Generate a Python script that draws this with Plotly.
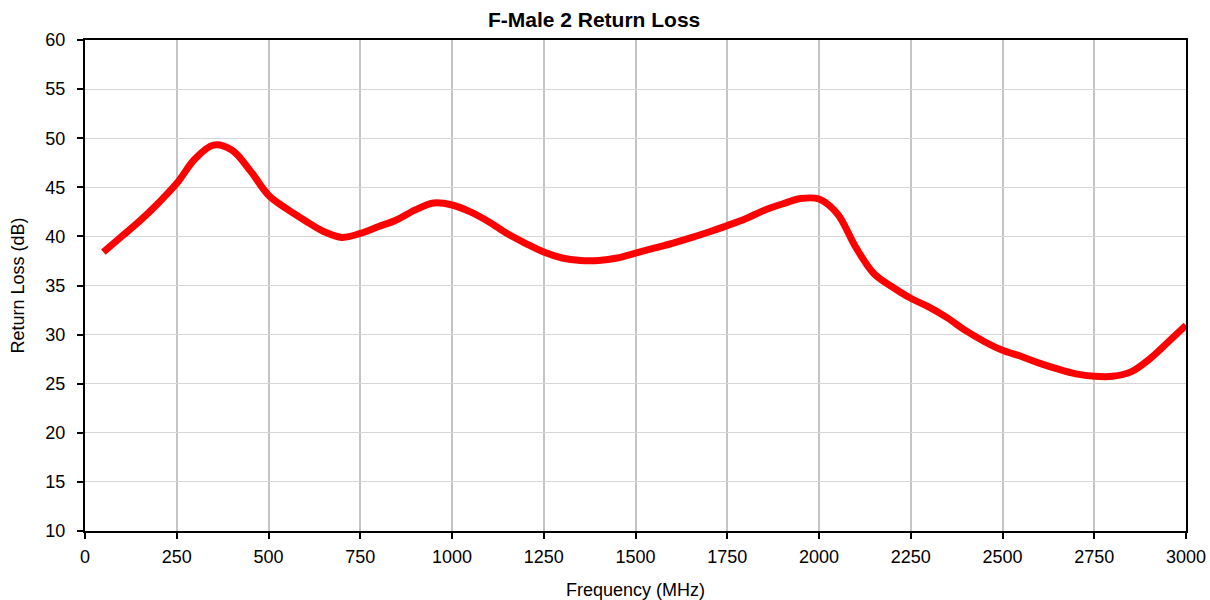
import plotly.graph_objects as go

# Measured return loss of the F-Male 2 connector
freq_mhz = [50, 100, 150, 200, 250, 300, 350, 400, 450, 500,
            550, 600, 650, 700, 750, 800, 850, 900, 950, 1000,
            1050, 1100, 1150, 1200, 1250, 1300, 1350, 1400, 1450, 1500,
            1550, 1600, 1650, 1700, 1750, 1800, 1850, 1900, 1950, 2000,
            2050, 2100, 2150, 2200, 2250, 2300, 2350, 2400, 2450, 2500,
            2550, 2600, 2650, 2700, 2750, 2800, 2850, 2900, 2950, 3000]
return_loss_db = [38.4, 40.0, 41.6, 43.4, 45.4, 47.9, 49.3, 48.8, 46.7, 44.2,
                  42.8, 41.6, 40.5, 39.9, 40.3, 41.0, 41.7, 42.7, 43.4, 43.2,
                  42.5, 41.5, 40.3, 39.3, 38.4, 37.8, 37.55, 37.55, 37.8, 38.3,
                  38.8, 39.3, 39.85, 40.45, 41.1, 41.8, 42.65, 43.3, 43.85, 43.8,
                  42.3, 38.9, 36.2, 34.85, 33.7, 32.8, 31.7, 30.4, 29.3, 28.4,
                  27.8, 27.1, 26.5, 26.0, 25.75, 25.75, 26.2, 27.5, 29.2, 30.95]

x_ticks = [0, 250, 500, 750, 1000, 1250, 1500, 1750, 2000, 2250, 2500, 2750, 3000]
y_ticks = [10, 15, 20, 25, 30, 35, 40, 45, 50, 55, 60]

font_family = "Liberation Sans, Arial, sans-serif"

fig = go.Figure()
fig.add_trace(go.Scatter(
    x=freq_mhz,
    y=return_loss_db,
    mode="lines",
    line=dict(color="#ff0000", width=7, shape="spline", smoothing=1.0),
    showlegend=False,
))

fig.update_layout(
    width=1210,
    height=600,
    margin=dict(l=85, r=24, t=40, b=69),
    paper_bgcolor="white",
    plot_bgcolor="white",
    font=dict(family=font_family, size=18, color="black"),
    title=dict(
        text="<b>F-Male 2 Return Loss</b>",
        x=0.491, xanchor="center",
        y=0.968, yanchor="middle",
        font=dict(family=font_family, size=21, color="black"),
    ),
)

fig.update_xaxes(
    range=[0, 3000],
    tickvals=x_ticks,
    ticktext=[str(v) for v in x_ticks],
    ticks="outside",
    ticklen=6,
    tickwidth=2,
    tickcolor="black",
    ticklabelstandoff=2,
    tickfont=dict(size=18),
    showline=True,
    linecolor="black",
    linewidth=2,
    mirror=True,
    showgrid=True,
    gridcolor="#c4c4c4",
    gridwidth=2,
    zeroline=False,
    automargin=False,
    title=dict(text="Frequency (MHz)", standoff=20,
               font=dict(family=font_family, size=18)),
)

fig.update_yaxes(
    range=[10, 60],
    tickvals=y_ticks,
    ticktext=[str(v) for v in y_ticks],
    ticks="outside",
    ticklen=6,
    tickwidth=2,
    tickcolor="black",
    ticklabelstandoff=8,
    tickfont=dict(size=18),
    showline=True,
    linecolor="black",
    linewidth=2,
    mirror=True,
    showgrid=True,
    gridcolor="#d6d6d6",
    gridwidth=1.3,
    zeroline=False,
    automargin=False,
    title=dict(text="Return Loss (dB)", standoff=16,
               font=dict(family=font_family, size=18)),
)

fig.write_html("out.html")
